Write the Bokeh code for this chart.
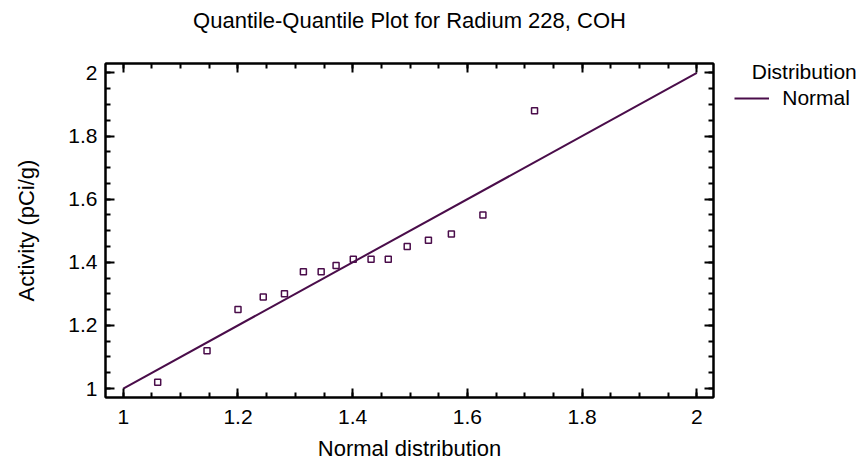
from bokeh.plotting import figure
from bokeh.models import (LinearAxis, Legend, LegendItem, Range1d, Title,
                          SingleIntervalTicker, NumeralTickFormatter)
from bokeh.embed import file_html
from bokeh.resources import INLINE

# Data
normal_quantile = [1.060, 1.146, 1.200, 1.244, 1.281, 1.314, 1.345, 1.371,
                   1.401, 1.432, 1.462, 1.495, 1.532, 1.572, 1.627, 1.717]
activity = [1.02, 1.12, 1.25, 1.29, 1.30, 1.37, 1.37, 1.39,
            1.41, 1.41, 1.41, 1.45, 1.47, 1.49, 1.55, 1.88]
ref_x = [1.0, 2.0]
ref_y = [1.0, 2.0]

title_text = "Quantile-Quantile Plot for Radium 228, COH"
x_label = "Normal distribution"
y_label = "Activity (pCi/g)"
legend_title = "Distribution"
legend_label = "Normal"

COLOR = "#4a0d4a"
FONT = "Liberation Sans"

p = figure(frame_width=608, frame_height=334,
           min_border_left=105, min_border_right=147,
           min_border_top=63, min_border_bottom=66,
           x_range=Range1d(0.969, 2.029), y_range=Range1d(0.9715, 2.030),
           output_backend="svg", toolbar_location=None,
           x_axis_location=None, y_axis_location=None)
p.xgrid.visible = False
p.ygrid.visible = False
p.outline_line_color = "black"
p.outline_line_width = 2
p.background_fill_color = "white"
p.border_fill_color = "white"


def make_axis(show_labels, label=None):
    ax = LinearAxis(ticker=SingleIntervalTicker(interval=0.2, num_minor_ticks=4),
                    formatter=NumeralTickFormatter(format="0.[0]"))
    ax.axis_line_color = "black"
    ax.axis_line_width = 2
    ax.major_tick_in = 9
    ax.major_tick_out = 0
    ax.minor_tick_in = 5
    ax.minor_tick_out = 0
    ax.major_tick_line_width = 2
    ax.minor_tick_line_width = 2
    ax.major_tick_line_color = "black"
    ax.minor_tick_line_color = "black"
    ax.major_label_text_font = FONT
    if show_labels:
        ax.major_label_text_font_size = "21px"
        ax.major_label_text_color = "black"
        ax.major_label_standoff = 8
    else:
        ax.major_label_text_font_size = "1px"
        ax.major_label_text_color = None
        ax.major_label_standoff = 0
    if label:
        ax.axis_label = label
        ax.axis_label_text_font = FONT
        ax.axis_label_text_font_size = "22px"
        ax.axis_label_text_font_style = "normal"
        ax.axis_label_text_color = "black"
    return ax


xb = make_axis(True, x_label)
xb.major_label_standoff = 12
xb.axis_label_standoff = 9
yl = make_axis(True, y_label)
yl.axis_label_standoff = 26
xa = make_axis(False)
yr = make_axis(False)
p.add_layout(xb, "below")
p.add_layout(yl, "left")
p.add_layout(xa, "above")
p.add_layout(yr, "right")

# blank spacer that lifts the title away from the frame
spacer = Title(text="\u00a0", text_font=FONT, text_font_size="1px",
               text_color="white", standoff=28)
p.add_layout(spacer, "above")
title = Title(text=title_text, align="center", text_font=FONT,
              text_font_size="22px", text_font_style="normal",
              text_color="black", standoff=0)
p.add_layout(title, "above")

line = p.line(ref_x, ref_y, line_color=COLOR, line_width=2)
p.scatter(normal_quantile, activity, marker="square", size=6,
          fill_color=None, line_color=COLOR, line_width=1.5)

legend = Legend(items=[LegendItem(label=legend_label, renderers=[line])],
                location=(-208, 287), padding=0, margin=0, spacing=0,
                border_line_color=None, background_fill_alpha=0,
                title="\u00a0\u00a0\u00a0" + legend_title,
                title_text_font=FONT, title_text_font_size="21px",
                title_text_font_style="normal", title_text_color="black",
                title_standoff=2,
                glyph_width=35, glyph_height=24, label_height=24,
                label_standoff=13, label_text_font=FONT,
                label_text_color="black", label_text_font_size="21px")
p.add_layout(legend, "right")

open("out.html", "w").write(file_html(p, INLINE))
